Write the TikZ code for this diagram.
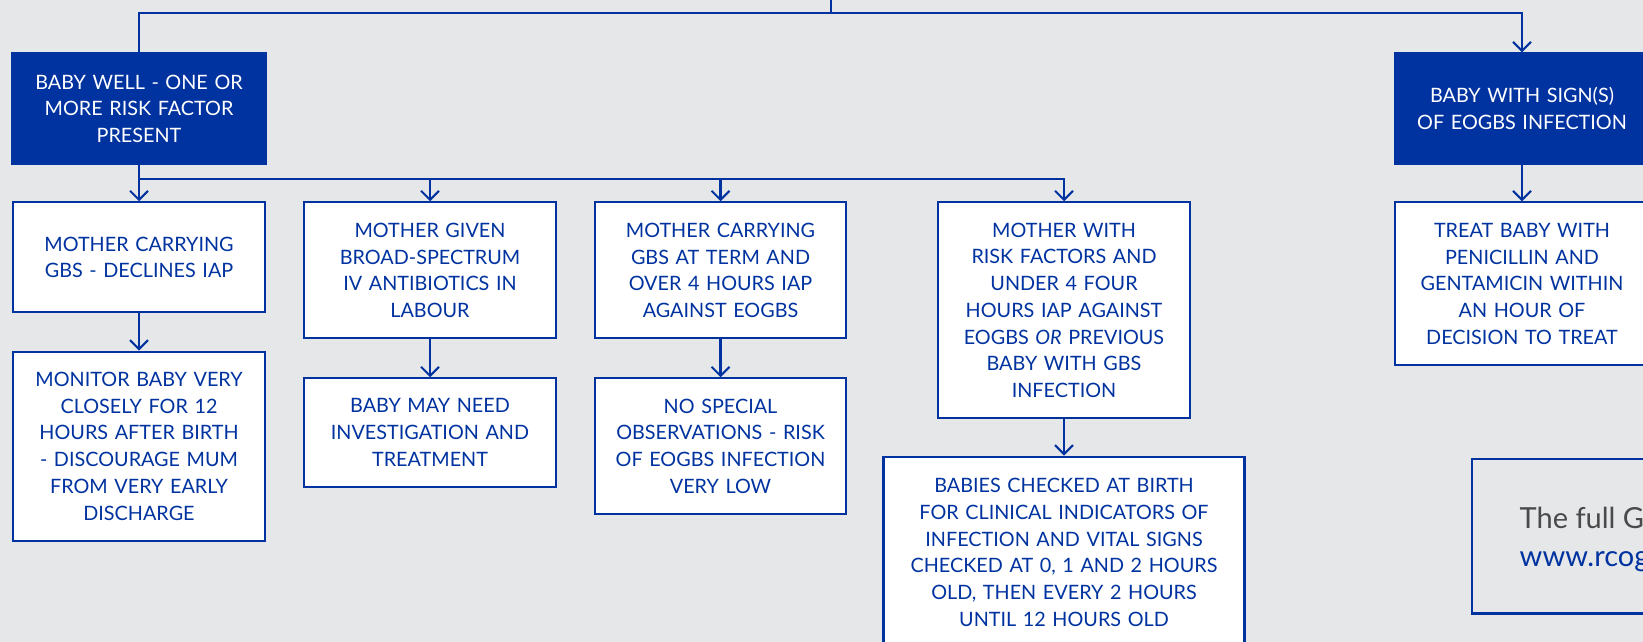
\documentclass[tikz,border=0pt]{standalone}
\usepackage{fontspec}
\setmainfont{Lato}
\usetikzlibrary{arrows.meta}
\definecolor{rcogblue}{HTML}{0033A0}
\definecolor{bggray}{HTML}{E6E7E9}
\definecolor{txtgray}{HTML}{4A4A4A}
\begin{document}
\begin{tikzpicture}[x=1pt,y=-1pt,
  every node/.style={font=\fontsize{19.8}{26.7}\selectfont},
  box/.style={draw=rcogblue, fill=white, line width=2.1pt, text=rcogblue, align=center, inner sep=0pt},
  darkbox/.style={draw=rcogblue, fill=rcogblue, line width=2.1pt, text=white, align=center, inner sep=0pt},
  conn/.style={draw=rcogblue, line width=2.1pt},
  arr/.style={conn, -{Straight Barb[length=9pt,width=18pt,line width=2.1pt]}}
]
\useasboundingbox (0,0) rectangle (1643,642);
\clip (0,0) rectangle (1643,642);
\fill[bggray] (0,0) rectangle (1643,642);

% top-level boxes
\node[darkbox, minimum width=253pt, minimum height=110.7pt, text width=243pt] (W) at (139,108.7)
  {BABY WELL - ONE OR\\MORE RISK FACTOR\\PRESENT};
\node[darkbox, minimum width=254pt, minimum height=110.7pt, text width=244pt] (S) at (1522,108.7)
  {BABY WITH SIGN(S)\\OF EOGBS INFECTION};

% second row
\node[box, minimum width=252pt, minimum height=110pt, text width=242pt] (A1) at (139,257.3)
  {MOTHER CARRYING\\GBS - DECLINES IAP};
\node[box, minimum width=251.7pt, minimum height=136pt, text width=242pt] (A2) at (430,270.3)
  {MOTHER GIVEN\\BROAD-SPECTRUM\\IV ANTIBIOTICS IN\\LABOUR};
\node[box, minimum width=251.4pt, minimum height=136pt, text width=242pt] (A3) at (720.5,270.3)
  {MOTHER CARRYING\\GBS AT TERM AND\\OVER 4 HOURS IAP\\AGAINST EOGBS};
\node[box, minimum width=251.6pt, minimum height=216pt, text width=242pt] (A4) at (1064,310.3)
  {MOTHER WITH\\RISK FACTORS AND\\UNDER 4 FOUR\\HOURS IAP AGAINST\\EOGBS \textit{OR} PREVIOUS\\BABY WITH GBS\\INFECTION};
\node[box, minimum width=254pt, minimum height=162.7pt, text width=244pt] (R2) at (1522,283.7)
  {TREAT BABY WITH\\PENICILLIN AND\\GENTAMICIN WITHIN\\AN HOUR OF\\DECISION TO TREAT};

% third row
\node[box, minimum width=251.3pt, minimum height=189pt, text width=242pt] (B1) at (139,446.2)
  {MONITOR BABY VERY\\CLOSELY FOR 12\\HOURS AFTER BIRTH\\- DISCOURAGE MUM\\FROM VERY EARLY\\DISCHARGE};
\node[box, minimum width=251.3pt, minimum height=108.4pt, text width=242pt] (B2) at (430,432.5)
  {BABY MAY NEED\\INVESTIGATION AND\\TREATMENT};
\node[box, minimum width=251.4pt, minimum height=135.4pt, text width=242pt] (B3) at (720.5,446)
  {NO SPECIAL\\OBSERVATIONS - RISK\\OF EOGBS INFECTION\\VERY LOW};
\node[box, minimum width=361pt, minimum height=191.6pt, text width=350pt] (B4) at (1064,552.4)
  {BABIES CHECKED AT BIRTH\\FOR CLINICAL INDICATORS OF\\INFECTION AND VITAL SIGNS\\CHECKED AT 0, 1 AND 2 HOURS\\OLD, THEN EVERY 2 HOURS\\UNTIL 12 HOURS OLD};

% info box (cut by the right edge, as in the reference)
\draw[rcogblue, line width=2.8pt] (1700,459) -- (1472,459) -- (1472,613.3) -- (1700,613.3);
\node[anchor=base west, inner sep=0pt, text=txtgray, font=\fontsize{29}{36}\selectfont] (info1) at (1519.5,528) {The full G};
\node[anchor=base west, inner sep=0pt, text=rcogblue, font=\fontsize{29}{36}\selectfont] (info2) at (1519.5,566) {www.rcog};

% connectors
\coordinate (t0) at (831,0);
\coordinate (t1) at (831,13.3);
\draw[conn] (t0) -- (t1);
\draw[conn] (W.north) |- (t1);
\draw[arr] (t1) -| (S.north);

\coordinate (m) at (139,179);
\draw[conn] (W.south) -- (m);
\draw[arr] (m) -- (A1.north);
\draw[arr] (m) -| (A2.north);
\draw[arr] (m) -| (A3.north);
\draw[arr] (m) -| (A4.north);
\draw[arr] (S.south) -- (R2.north);

\draw[arr] (A1.south) -- (B1.north);
\draw[arr] (A2.south) -- (B2.north);
\draw[arr] (A3.south) -- (B3.north);
\draw[arr] (A4.south) -- (B4.north);
\end{tikzpicture}
\end{document}
